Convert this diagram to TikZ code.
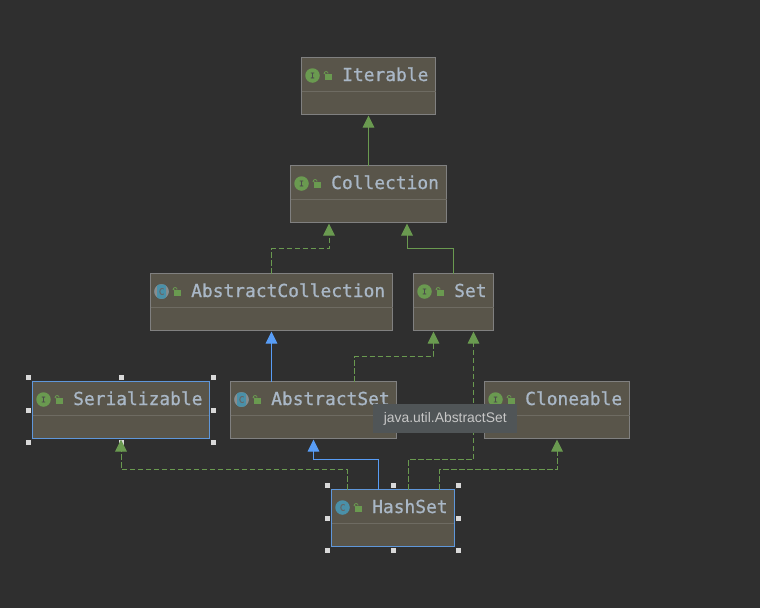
\documentclass[tikz,border=0pt]{standalone}
\usepackage{fontspec}
\usepackage{xcolor}
\usetikzlibrary{
  positioning,
  arrows.meta
}
\newfontfamily\classfont[FakeBold=0.9]{DejaVu Sans Mono}
\setmainfont{Liberation Sans}
\definecolor{canvasgray}{HTML}{2F2F2F}
\definecolor{boxfill}{HTML}{59554A}
\definecolor{boxline}{HTML}{808080}
\definecolor{dividerline}{HTML}{6E6B62}
\definecolor{titlecolor}{HTML}{A9B7C6}
\definecolor{implgreen}{HTML}{6A9A50}
\definecolor{extblue}{HTML}{589DF6}
\definecolor{selblue}{HTML}{5F97DA}
\definecolor{iconblue}{HTML}{4A90A8}
\definecolor{tipgray}{HTML}{505557}
\tikzset{
  classbox/.style={draw=boxline,fill=boxfill,line width=1pt,anchor=north west,inner sep=0pt,outer sep=0pt,minimum height=57pt},
  selbox/.style={color=selblue,line width=1.2pt},
  classtitle/.style={anchor=base west,inner sep=0pt,text=titlecolor,font=\classfont\fontsize{17.9}{20}\selectfont},
  iconI/.style={circle,fill=implgreen,minimum size=14.5pt,inner sep=0pt,text=black!70,font=\classfont\fontsize{8}{8}\selectfont},
  iconC/.style={circle,fill=iconblue,minimum size=14.5pt,inner sep=0pt,text=black!60,font=\classfont\fontsize{9}{9}\selectfont},
  iconA/.style={circle,fill=black!45,minimum size=14.5pt,inner sep=0pt},
  handle/.style={fill=black!15,draw=none,minimum size=5pt,inner sep=0pt},
  implline/.style={draw=implgreen,line width=1pt,dash pattern=on 5.5pt off 2.5pt,shorten >=1pt,-{Triangle[width=11.5pt,length=12pt,fill=implgreen]}},
  subline/.style={draw=implgreen,line width=1pt,shorten >=1pt,-{Triangle[width=11.5pt,length=12pt,fill=implgreen]}},
  extline/.style={draw=extblue,line width=1pt,shorten >=1pt,-{Triangle[width=11.5pt,length=12pt,fill=extblue]}},
  tooltip/.style={fill=tipgray,anchor=north west,inner sep=0pt,minimum width=144pt,minimum height=29pt,text=black!22,font=\fontsize{13.9}{15}\selectfont}
}
% name, x, y, width, icon letter, title
\newcommand{\classnode}[6]{
  \node[classbox,minimum width=#4pt] (#1) at (#2+0.5,#3+0.5) {};
  \draw[dividerline,line width=0.8pt] ([yshift=-34pt]#1.north west) -- ([yshift=-34pt]#1.north east);
  \node[icon#5] (#1icon) at ([shift={(11,18)}]#1.north west) {#5};
  \fill[implgreen] ([shift={(23.5,16.5)}]#1.north west) rectangle ([shift={(30,22)}]#1.north west);
  \draw[implgreen,line width=0.8pt] ([shift={(25,17)}]#1.north west) -- ([shift={(22.6,16)}]#1.north west) arc[start angle=180,end angle=0,radius=2pt];
  \node[classtitle] (#1title) at ([shift={(40.5,23.5)}]#1.north west) {#6};
}
% abstract class marker, grey at the sides
\newcommand{\abstractmark}[1]{
  \node[iconA] (#1mark) at (#1icon) {};
  \fill[iconblue,rounded corners=2pt] ([shift={(-4.5,-7)}]#1mark.center) rectangle ([shift={(4.5,7)}]#1mark.center);
  \node[text=black!60,inner sep=0pt,font=\classfont\fontsize{9}{9}\selectfont] at (#1mark) {C};
}
\newcommand{\handles}[1]{
  \foreach \a/\dx/\dy in {north west/-4/-4,north/0/-4,north east/4/-4,west/-4/0,east/4/0,south west/-4/4,south/0/4,south east/4/4}
    \node[handle] at ([shift={(\dx,\dy)}]#1.\a) {};
}
\begin{document}
\begin{tikzpicture}[x=1pt,y=-1pt]
  \path[use as bounding box,fill=canvasgray] (0,0) rectangle (760,608);

  \classnode{iterable}{301}{57}{134}{I}{Iterable}
  \classnode{collection}{290}{165}{156}{I}{Collection}
  \classnode{abstractcollection}{150}{273}{242}{C}{AbstractCollection}
  \abstractmark{abstractcollection}
  \classnode{set}{413}{273}{80}{I}{Set}
  \classnode{abstractset}{230}{381}{166}{C}{AbstractSet}
  \abstractmark{abstractset}
  \classnode{cloneable}{484}{381}{145}{I}{Cloneable}
  \classnode{hashset}{331}{489}{123}{C}{HashSet}
  \classnode{serializable}{32}{381}{177}{I}{Serializable}
  \draw[selbox] (serializable.north west) rectangle (serializable.south east);
  \draw[selbox] (hashset.north west) rectangle (hashset.south east);
  \handles{serializable}
  \handles{hashset}

  \draw[subline] (collection.north) -- (iterable.south);
  \draw[implline] (abstractcollection.north) -- ++(0,-25) -| ([xshift=-39.5pt]collection.south);
  \draw[subline] (set.north) -- ++(0,-25) -| ([xshift=38.5pt]collection.south);
  \draw[extline] ([xshift=-42pt]abstractset.north) -- (abstractcollection.south);
  \draw[implline] ([xshift=41pt]abstractset.north) -- ++(0,-25) -| ([xshift=-20pt]set.south);
  \draw[implline] ([xshift=15pt]hashset.north) -- ++(0,-30) -| ([xshift=20pt]set.south);
  \draw[implline] ([xshift=46pt]hashset.north) -- ++(0,-20) -| (cloneable.south);
  \draw[extline] ([xshift=-15pt]hashset.north) -- ++(0,-30) -| (abstractset.south);
  \draw[implline] ([xshift=-46pt]hashset.north) -- ++(0,-20) -| (serializable.south);

  \node[tooltip] (abstractsettip) at (373,404) {java.util.AbstractSet};
\end{tikzpicture}
\end{document}
